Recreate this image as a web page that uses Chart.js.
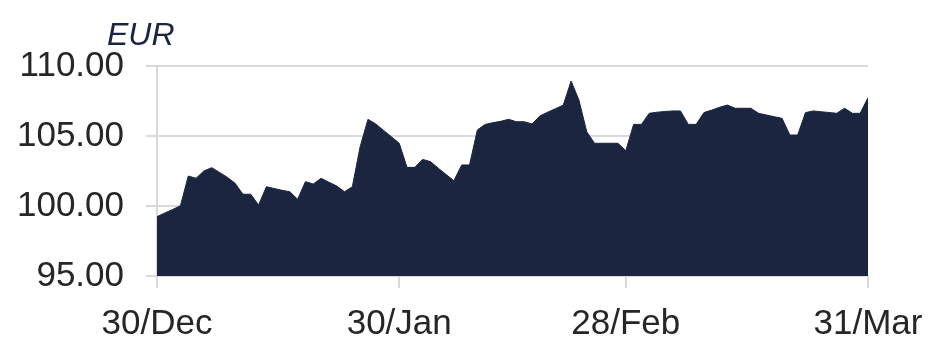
<!DOCTYPE html>
<html>
<head>
<meta charset="utf-8">
<title>EUR</title>
<script src="https://cdn.jsdelivr.net/npm/chart.js@4"></script>
<style>
  html, body { margin: 0; padding: 0; background: #fff; }
  #wrap { width: 931px; height: 338px; position: relative; }
</style>
</head>
<body>
<div id="wrap"><canvas id="myChart"></canvas></div>
<script>
// daily closes, 30/Dec to 31/Mar (one value per calendar day)
const prices = [
  99.24, 99.50, 99.75, 100.02, 102.14, 101.98, 102.50, 102.74, 102.40, 102.05,
  101.62, 100.84, 100.84, 100.07, 101.38, 101.25, 101.12, 101.02, 100.48, 101.74,
  101.57, 101.98, 101.70, 101.43, 101.02, 101.38, 104.24, 106.19, 105.86, 105.40,
  104.95, 104.48, 102.76, 102.76, 103.33, 103.17, 102.70, 102.25, 101.81, 102.93,
  102.93, 105.43, 105.83, 105.95, 106.05, 106.19, 106.02, 106.02, 105.86, 106.43,
  106.70, 106.95, 107.21, 108.93, 107.57, 105.31, 104.48, 104.48, 104.48, 104.48,
  103.95, 105.83, 105.83, 106.62, 106.70, 106.75, 106.79, 106.79, 105.83, 105.83,
  106.67, 106.85, 107.05, 107.21, 106.98, 106.98, 106.98, 106.62, 106.50, 106.38,
  106.26, 105.07, 105.07, 106.67, 106.79, 106.73, 106.68, 106.62, 106.98, 106.62,
  106.62, 107.74
];

// x-axis labels and the day offsets they sit on
const tickLabels = ['30/Dec', '30/Jan', '28/Feb', '31/Mar'];
const tickDays = [0, 31, 60, 91];

// y-axis ticks
const yTicks = [95, 100, 105, 110];

const NAVY = '#1b2540';
const GRID = '#d9d9d9';
const TEXT = '#262626';
const FONT = "'Liberation Sans', Arial, sans-serif";

// currency caption above the y-axis
const unitLabel = {
  id: 'unitLabel',
  afterDraw(chart) {
    const c = chart.ctx;
    c.save();
    c.font = "italic 32px " + FONT;
    c.fillStyle = NAVY;
    c.textBaseline = 'alphabetic';
    c.textAlign = 'left';
    c.fillText('EUR', 107, 45);
    c.restore();
  }
};

const ctx = document.getElementById('myChart').getContext('2d');

const chart = new Chart(ctx, {
  type: 'line',
  data: {
    datasets: [{
      label: 'EUR',
      data: prices.map((v, i) => ({ x: i, y: v })),
      borderColor: NAVY,
      borderWidth: 1,
      backgroundColor: NAVY,
      fill: 'start',
      pointRadius: 0,
      tension: 0
    }]
  },
  options: {
    responsive: true,
    maintainAspectRatio: false,
    animation: false,
    layout: { padding: { top: 66, right: 63, bottom: 0, left: 0 } },
    plugins: {
      legend: { display: false },
      tooltip: { enabled: false }
    },
    scales: {
      x: {
        type: 'linear',
        min: 0,
        max: 91,
        afterBuildTicks: (scale) => { scale.ticks = tickDays.map(d => ({ value: d })); },
        afterFit: (scale) => {
          // end labels may hang past the plot edges
          scale.height = 62;
          scale.paddingLeft = 0;
          scale.paddingRight = 0;
        },
        ticks: {
          autoSkip: false,
          maxRotation: 0,
          padding: 15,
          color: TEXT,
          font: { family: FONT, size: 35 },
          callback: (v) => tickLabels[tickDays.indexOf(v)]
        },
        grid: {
          drawOnChartArea: false,
          drawTicks: true,
          tickLength: 12,
          color: GRID,
          lineWidth: 2
        },
        border: { display: true, color: GRID, width: 2 }
      },
      y: {
        min: 95,
        max: 110,
        afterBuildTicks: (scale) => { scale.ticks = yTicks.map(v => ({ value: v })); },
        afterFit: (scale) => { scale.width = 157; },
        ticks: {
          padding: 22,
          color: TEXT,
          font: { family: FONT, size: 35 },
          callback: (v) => v.toFixed(2)
        },
        grid: {
          color: GRID,
          lineWidth: 2,
          tickLength: 11
        },
        border: { display: true, color: GRID, width: 2 }
      }
    }
  },
  plugins: [unitLabel]
});
</script>
</body>
</html>
